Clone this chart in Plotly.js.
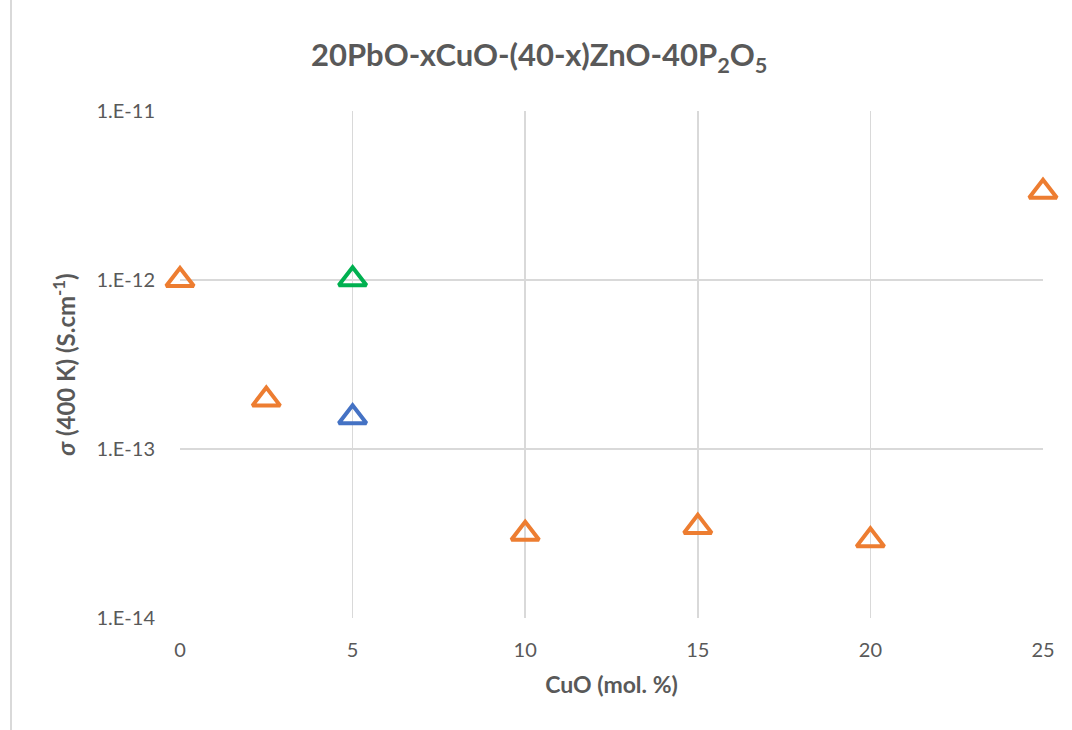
<!DOCTYPE html>
<html>
<head>
<meta charset="utf-8">
<script src="https://cdn.plot.ly/plotly-3.0.1.min.js"></script>
<style>
  html, body { margin: 0; padding: 0; background: #ffffff; }
  #wrap { position: relative; width: 1072px; height: 730px; }
  #chart { width: 1072px; height: 730px; }
  #edge { position: absolute; left: 10px; top: 0; width: 1.5px; height: 730px; background: #d9d9d9; }
</style>
</head>
<body>
<div id="wrap">
  <div id="chart"></div>
  <div id="edge"></div>
</div>
<script>
// Data
const orangeX = [0, 2.5, 10, 15, 20, 25];
const orangeY = [1.0e-12, 1.96e-13, 3.15e-14, 3.46e-14, 2.88e-14, 3.33e-12];
const blueX = [5];
const blueY = [1.54e-13];
const greenX = [5];
const greenY = [1.01e-12];

const yTickVals = [1e-14, 1e-13, 1e-12, 1e-11];
const yTickText = ['1.E-14', '1.E-13', '1.E-12', '1.E-11'];
const xTickVals = [0, 5, 10, 15, 20, 25];

const FONT = 'Lato, "Open Sans", "Liberation Sans", sans-serif';
const GREY = '#595959';

function series(x, y, color) {
  return {
    x: x, y: y, type: 'scatter', mode: 'markers', cliponaxis: false,
    marker: { symbol: 'triangle-up-open', size: 24, color: color, line: { color: color, width: 4 } },
    showlegend: false, hoverinfo: 'x+y'
  };
}

const data = [
  series(orangeX, orangeY, '#ED7D31'),
  series(blueX, blueY, '#4472C4'),
  series(greenX, greenY, '#00B050')
];

const layout = {
  width: 1072, height: 730,
  paper_bgcolor: '#ffffff', plot_bgcolor: '#ffffff',
  margin: { l: 180, r: 29, t: 111, b: 112 },
  font: { family: FONT, color: GREY },
  title: {
    text: '20PbO-xCuO-(40-x)ZnO-40P<sub>2</sub>O<sub>5</sub>',
    font: { family: FONT, size: 31, color: GREY, weight: 'bold' },
    x: 0.503, xref: 'container', xanchor: 'center',
    y: 0.924, yref: 'container', yanchor: 'middle'
  },
  xaxis: {
    range: [0, 25], tickvals: xTickVals, ticktext: xTickVals.map(String),
    showgrid: true, gridcolor: '#d9d9d9', gridwidth: 1.5,
    zeroline: false, showline: false, ticks: '',
    ticklabelstandoff: 18,
    tickfont: { family: FONT, size: 20, color: GREY },
    title: { text: 'CuO (mol. %)', font: { family: FONT, size: 23, color: GREY, weight: 'bold' }, standoff: 16 }
  },
  yaxis: {
    type: 'log', range: [-14, -11], tickvals: yTickVals, ticktext: yTickText,
    showgrid: true, gridcolor: '#d9d9d9', gridwidth: 1.5,
    zeroline: false, showline: false, ticks: '',
    ticklabelstandoff: 24,
    tickfont: { family: FONT, size: 20, color: GREY },
    title: { text: '<i>σ</i> (400 K) (S.cm<sup>-1</sup>)', font: { family: FONT, size: 24, color: GREY, weight: 'bold' }, standoff: 14 }
  }
};

Plotly.newPlot('chart', data, layout, { displayModeBar: false, staticPlot: true });
</script>
</body>
</html>
